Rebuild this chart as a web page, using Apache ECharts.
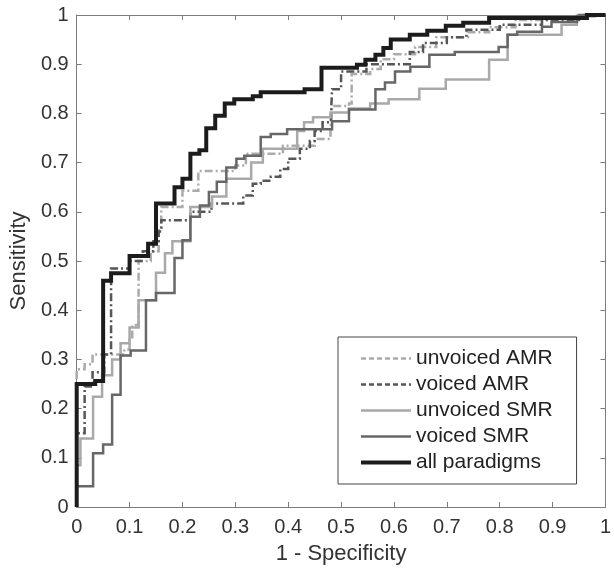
<!DOCTYPE html>
<html>
<head>
<meta charset="utf-8">
<script src="https://cdn.jsdelivr.net/npm/echarts@6/dist/echarts.min.js"></script>
<style>
html,body{margin:0;padding:0;background:#fff;}
#chart{width:614px;height:570px;}
</style>
</head>
<body>
<div id="chart"></div>
<script>
var seriesNames = ['unvoiced AMR', 'voiced AMR', 'unvoiced SMR', 'voiced SMR', 'all paradigms'];
var xTicks = [0, 0.1, 0.2, 0.3, 0.4, 0.5, 0.6, 0.7, 0.8, 0.9, 1];
var yTicks = [0, 0.1, 0.2, 0.3, 0.4, 0.5, 0.6, 0.7, 0.8, 0.9, 1];

var unvoicedAMR = [[0,0],[0,0.28],[0.015,0.29],[0.03,0.31],[0.09,0.32],[0.1,0.34],[0.105,0.37],[0.117,0.5],[0.14,0.52],[0.155,0.567],[0.16,0.61],[0.2,0.643],[0.23,0.683],[0.3,0.694],[0.32,0.718],[0.39,0.734],[0.45,0.748],[0.48,0.77],[0.483,0.815],[0.515,0.82],[0.52,0.88],[0.555,0.89],[0.575,0.91],[0.6,0.92],[0.64,0.935],[0.68,0.955],[0.74,0.965],[0.78,0.975],[0.83,0.99],[0.9,0.995],[0.96,1],[1,1]];
var voicedAMR = [[0,0],[0,0.15],[0.015,0.245],[0.03,0.274],[0.052,0.31],[0.065,0.485],[0.1,0.5],[0.125,0.52],[0.145,0.54],[0.155,0.56],[0.16,0.583],[0.215,0.6],[0.255,0.617],[0.315,0.633],[0.333,0.657],[0.348,0.663],[0.367,0.671],[0.385,0.687],[0.4,0.708],[0.422,0.728],[0.441,0.744],[0.45,0.764],[0.465,0.782],[0.481,0.8],[0.483,0.849],[0.5,0.885],[0.548,0.9],[0.63,0.925],[0.655,0.943],[0.7,0.955],[0.737,0.97],[0.8,0.98],[0.88,0.99],[0.95,1],[1,1]];
var unvoicedSMR = [[0,0],[0,0.085],[0.007,0.139],[0.031,0.224],[0.048,0.268],[0.067,0.3],[0.083,0.333],[0.1,0.365],[0.117,0.42],[0.15,0.476],[0.167,0.516],[0.181,0.54],[0.215,0.61],[0.256,0.631],[0.283,0.667],[0.33,0.7],[0.352,0.728],[0.417,0.764],[0.43,0.782],[0.447,0.792],[0.48,0.802],[0.515,0.81],[0.555,0.82],[0.59,0.829],[0.648,0.85],[0.698,0.869],[0.78,0.909],[0.815,0.96],[0.917,0.98],[0.946,0.998],[0.98,1],[1,1]];
var voicedSMR = [[0,0],[0,0.042],[0.031,0.109],[0.05,0.127],[0.067,0.228],[0.083,0.308],[0.102,0.318],[0.131,0.42],[0.15,0.435],[0.185,0.506],[0.2,0.542],[0.215,0.59],[0.233,0.613],[0.25,0.64],[0.265,0.661],[0.283,0.69],[0.302,0.708],[0.317,0.714],[0.348,0.752],[0.367,0.758],[0.398,0.768],[0.483,0.784],[0.515,0.808],[0.565,0.849],[0.583,0.863],[0.602,0.885],[0.631,0.895],[0.667,0.919],[0.715,0.925],[0.798,0.935],[0.815,0.96],[0.833,0.966],[0.88,0.976],[0.898,0.986],[0.946,0.998],[0.98,1],[1,1]];
var allParadigms = [[0,0],[0,0.25],[0.035,0.256],[0.05,0.46],[0.065,0.475],[0.1,0.51],[0.135,0.535],[0.15,0.617],[0.185,0.65],[0.2,0.667],[0.215,0.718],[0.232,0.725],[0.245,0.77],[0.262,0.795],[0.28,0.82],[0.298,0.829],[0.333,0.835],[0.348,0.843],[0.431,0.849],[0.463,0.893],[0.53,0.899],[0.546,0.909],[0.565,0.919],[0.58,0.933],[0.594,0.95],[0.63,0.96],[0.663,0.968],[0.698,0.978],[0.731,0.984],[0.78,0.994],[0.965,1],[1,1]];

var seriesData = [unvoicedAMR, voicedAMR, unvoicedSMR, voicedSMR, allParadigms];
var seriesColors = ['#ababab', '#565656', '#a9a9a9', '#676767', '#1c1c1c'];
var seriesWidths = [2.5, 2.5, 2.5, 2.5, 4];
var dashDot = [8, 3, 2, 3];
var seriesTypes = [dashDot, dashDot, 'solid', 'solid', 'solid'];
var legendTypes = [[5, 3], [5, 3], 'solid', 'solid', 'solid'];

var FONT = '"Liberation Sans", Arial, Helvetica, sans-serif';
var AX = '#7d7d7d';
var TXT = '#333333';
function fmt(v){ return String(+(+v).toFixed(1)); }

var chart = echarts.init(document.getElementById('chart'), null, {renderer:'canvas'});

var series = seriesNames.map(function(n, i){
  return {
    name: n, type: 'line', step: 'end', symbol: 'none', clip: false,
    data: seriesData[i],
    lineStyle: {color: seriesColors[i], width: seriesWidths[i], type: seriesTypes[i], cap: 'butt', join: 'miter'},
    itemStyle: {color: seriesColors[i]},
    emphasis: {disabled: true},
    animation: false
  };
});

var baseAxis = {
  type: 'value', min: 0, max: 1, interval: 0.1,
  splitLine: {show: false},
  axisLine: {show: true, onZero: false, lineStyle: {color: AX, width: 1}},
  axisTick: {show: true, inside: true, length: 5, lineStyle: {color: AX}}
};

chart.setOption({
  backgroundColor: '#ffffff',
  animation: false,
  grid: {left: 72, top: 15, right: 3, bottom: 59, containLabel: false},
  xAxis: [
    Object.assign({}, baseAxis, {
      position: 'bottom',
      name: '1 - Specificity', nameLocation: 'middle', nameGap: 36,
      nameTextStyle: {fontFamily: FONT, fontSize: 22, color: TXT},
      axisLabel: {margin: 10, fontFamily: FONT, fontSize: 20, color: TXT, formatter: fmt}
    }),
    Object.assign({}, baseAxis, {position: 'top', axisLabel: {show: false}})
  ],
  yAxis: [
    Object.assign({}, baseAxis, {
      position: 'left',
      name: 'Sensitivity', nameLocation: 'middle', nameGap: 44, nameRotate: 90,
      nameTextStyle: {fontFamily: FONT, fontSize: 22, color: TXT},
      axisLabel: {margin: 8, fontFamily: FONT, fontSize: 20, color: TXT, formatter: fmt}
    }),
    Object.assign({}, baseAxis, {position: 'right', axisLabel: {show: false}})
  ],
  legend: {
    orient: 'vertical', left: 338, top: 337,
    backgroundColor: '#ffffff', borderColor: '#444444', borderWidth: 1,
    padding: [11, 24, 11, 21],
    itemWidth: 50, itemHeight: 20, itemGap: 5, itemTextGap: 14,
    selectedMode: false,
    textStyle: {fontFamily: FONT, fontSize: 21, color: '#222222', lineHeight: 20},
    data: seriesNames.map(function(n, i){
      return {
        name: n,
        itemStyle: {opacity: 0, color: 'rgba(0,0,0,0)', borderWidth: 0},
        lineStyle: {color: seriesColors[i], width: seriesWidths[i], type: legendTypes[i], opacity: 1}
      };
    })
  },
  series: series
});
</script>
</body>
</html>
